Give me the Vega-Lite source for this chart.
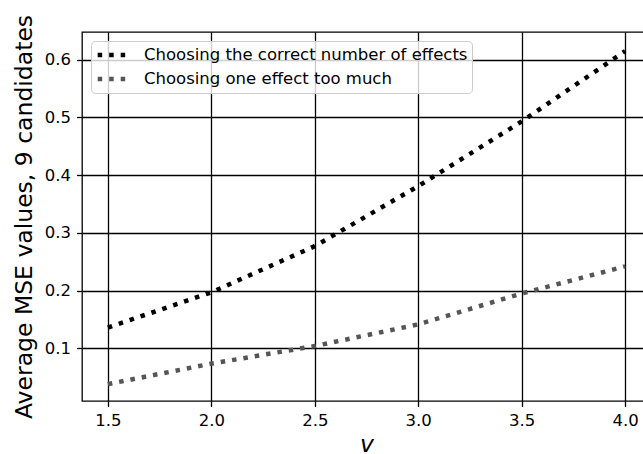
{
  "$schema": "https://vega.github.io/schema/vega-lite/v6.json",
  "autosize": "none",
  "width": 569,
  "height": 369,
  "padding": {"left": 82, "top": 32, "right": 0, "bottom": 53},
  "background": "white",
  "config": {
    "font": "DejaVu Sans",
    "view": {"stroke": "black", "strokeWidth": 1.3},
    "axis": {
      "domain": false,
      "grid": true,
      "gridColor": "black",
      "gridOpacity": 1,
      "gridWidth": 1.3,
      "tickColor": "black",
      "tickWidth": 1.3,
      "tickSize": 5.5,
      "labelFont": "DejaVu Sans",
      "labelFontSize": 16.5,
      "labelColor": "black",
      "labelPadding": 6,
      "titleFont": "DejaVu Sans",
      "titleFontWeight": "normal",
      "titleColor": "black",
      "titleFontSize": 23.5
    }
  },
  "data": {
    "values": [
      {"v": 1.5, "mse": 0.136, "series": "Choosing the correct number of effects"},
      {"v": 2.0, "mse": 0.197, "series": "Choosing the correct number of effects"},
      {"v": 2.5, "mse": 0.277, "series": "Choosing the correct number of effects"},
      {"v": 3.0, "mse": 0.381, "series": "Choosing the correct number of effects"},
      {"v": 3.5, "mse": 0.493, "series": "Choosing the correct number of effects"},
      {"v": 4.0, "mse": 0.615, "series": "Choosing the correct number of effects"},
      {"v": 1.5, "mse": 0.038, "series": "Choosing one effect too much"},
      {"v": 2.0, "mse": 0.0735, "series": "Choosing one effect too much"},
      {"v": 2.5, "mse": 0.104, "series": "Choosing one effect too much"},
      {"v": 3.0, "mse": 0.1415, "series": "Choosing one effect too much"},
      {"v": 3.5, "mse": 0.195, "series": "Choosing one effect too much"},
      {"v": 4.0, "mse": 0.242, "series": "Choosing one effect too much"}
    ]
  },
  "mark": {"type": "line", "strokeWidth": 4.5, "strokeDash": [4.5, 7], "strokeCap": "butt", "clip": true},
  "encoding": {
    "x": {
      "field": "v",
      "type": "quantitative",
      "scale": {"domain": [1.375, 4.125], "nice": false, "zero": false},
      "axis": {"values": [1.5, 2.0, 2.5, 3.0, 3.5, 4.0], "format": ".1f", "title": "v", "titleFontStyle": "italic", "titlePadding": 3}
    },
    "y": {
      "field": "mse",
      "type": "quantitative",
      "scale": {"domain": [0.0088, 0.648], "nice": false, "zero": false},
      "axis": {"values": [0.1, 0.2, 0.3, 0.4, 0.5, 0.6], "format": ".1f", "title": "Average MSE values, 9 candidates", "titlePadding": 8}
    },
    "color": {
      "field": "series",
      "type": "nominal",
      "scale": {"domain": ["Choosing the correct number of effects", "Choosing one effect too much"], "range": ["#000000", "#555555"]},
      "legend": {
        "title": null,
        "orient": "none",
        "legendX": 9,
        "legendY": 9,
        "fillColor": "rgba(255,255,255,0.8)",
        "strokeColor": "#cccccc",
        "cornerRadius": 4,
        "padding": 4,
        "clipHeight": 20,
        "symbolType": "stroke",
        "symbolSize": 1000,
        "symbolStrokeWidth": 4.5,
        "symbolDash": [4.5, 7],
        "labelFont": "DejaVu Sans",
        "labelFontSize": 16.5,
        "labelColor": "black",
        "labelOffset": 12,
        "labelLimit": 500,
        "rowPadding": 4
      }
    }
  }
}
